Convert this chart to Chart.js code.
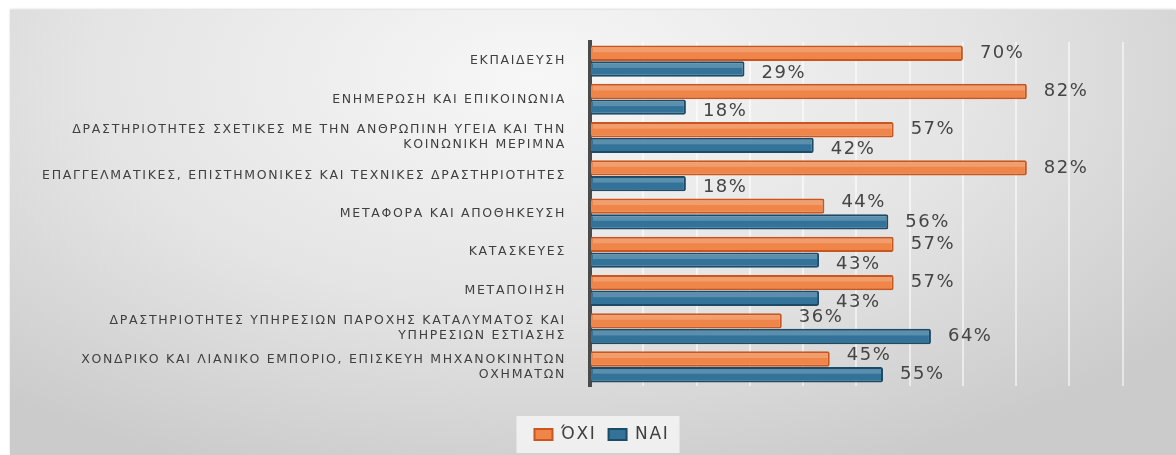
<!DOCTYPE html>
<html>
<head>
<meta charset="utf-8">
<script src="https://cdn.jsdelivr.net/npm/chart.js@4/dist/chart.umd.min.js"></script>
<style>
  html, body { margin: 0; padding: 0; background: #fff; }
  #wrap {
    position: absolute; left: 10px; top: 10px; width: 1166px; height: 445px;
    background: radial-gradient(ellipse 70% 95% at 45% 15%, #f7f7f7 0%, #e4e4e4 55%, #cbcbcb 100%);
    box-shadow: 0 -1px 2px rgba(0,0,0,0.15);
  }
</style>
</head>
<body>
<div id="wrap"><canvas id="sectors" width="1166" height="445"></canvas></div>
<script>
const sectors = [
  'ΕΚΠΑΙΔΕΥΣΗ',
  'ΕΝΗΜΕΡΩΣΗ ΚΑΙ ΕΠΙΚΟΙΝΩΝΙΑ',
  ['ΔΡΑΣΤΗΡΙΟΤΗΤΕΣ ΣΧΕΤΙΚΕΣ ΜΕ ΤΗΝ ΑΝΘΡΩΠΙΝΗ ΥΓΕΙΑ ΚΑΙ ΤΗΝ', 'ΚΟΙΝΩΝΙΚΗ ΜΕΡΙΜΝΑ'],
  'ΕΠΑΓΓΕΛΜΑΤΙΚΕΣ, ΕΠΙΣΤΗΜΟΝΙΚΕΣ ΚΑΙ ΤΕΧΝΙΚΕΣ ΔΡΑΣΤΗΡΙΟΤΗΤΕΣ',
  'ΜΕΤΑΦΟΡΑ ΚΑΙ ΑΠΟΘΗΚΕΥΣΗ',
  'ΚΑΤΑΣΚΕΥΕΣ',
  'ΜΕΤΑΠΟΙΗΣΗ',
  ['ΔΡΑΣΤΗΡΙΟΤΗΤΕΣ ΥΠΗΡΕΣΙΩΝ ΠΑΡΟΧΗΣ ΚΑΤΑΛΥΜΑΤΟΣ ΚΑΙ', 'ΥΠΗΡΕΣΙΩΝ ΕΣΤΙΑΣΗΣ'],
  ['ΧΟΝΔΡΙΚΟ ΚΑΙ ΛΙΑΝΙΚΟ ΕΜΠΟΡΙΟ, ΕΠΙΣΚΕΥΗ ΜΗΧΑΝΟΚΙΝΗΤΩΝ', 'ΟΧΗΜΑΤΩΝ']
];
const oxi = [70, 82, 57, 82, 44, 57, 57, 36, 45];
const nai = [29, 18, 42, 18, 56, 43, 43, 64, 55];

// the original text is drawn wide, so space the letters out a bit
const wideText = {
  id: 'wideText',
  beforeLayout(chart) { chart.ctx.letterSpacing = '1.7px'; },
  beforeDraw(chart) { chart.ctx.letterSpacing = '1.7px'; }
};

// soft light strip on top of each bar (the original has a bevelled look)
const barShine = {
  id: 'barShine',
  afterDatasetsDraw(chart) {
    const ctx = chart.ctx;
    ctx.save();
    chart.data.datasets.forEach((ds, di) => {
      chart.getDatasetMeta(di).data.forEach((bar) => {
        const top = bar.y - bar.height / 2;
        ctx.fillStyle = 'rgba(255,255,255,0.2)';
        ctx.fillRect(bar.base + 2, top + 2, bar.x - bar.base - 4, bar.height * 0.3);
      });
    });
    ctx.restore();
  }
};

// value labels at the end of each bar, the shorter one nudged away a little
const valueLabels = {
  id: 'valueLabels',
  afterDatasetsDraw(chart) {
    const ctx = chart.ctx;
    ctx.save();
    ctx.font = '18px "DejaVu Sans"';
    ctx.letterSpacing = '1.5px';
    ctx.fillStyle = '#454545';
    ctx.textAlign = 'left';
    ctx.textBaseline = 'middle';
    chart.data.datasets.forEach((ds, di) => {
      chart.getDatasetMeta(di).data.forEach((bar, i) => {
        const other = chart.data.datasets[1 - di].data[i];
        let dy = 0;
        if (ds.data[i] < other) dy = di === 0 ? -4 : 4;
        ctx.fillText(ds.data[i] + '%', bar.x + 17, bar.y + dy);
      });
    });
    ctx.restore();
  }
};

// light panel behind the legend
const legendPanel = {
  id: 'legendPanel',
  beforeDraw(chart) {
    const lg = chart.legend;
    if (!lg || !lg.legendHitBoxes.length) return;
    const b = lg.legendHitBoxes;
    const x0 = b[0].left - 18, x1 = b[b.length - 1].left + b[b.length - 1].width + 10;
    const ctx = chart.ctx;
    ctx.save();
    ctx.fillStyle = 'rgba(245,245,245,0.85)';
    ctx.fillRect(x0, b[0].top - 10, x1 - x0, b[0].height + 20);
    ctx.restore();
  }
};

new Chart(document.getElementById('sectors'), {
  type: 'bar',
  data: {
    labels: sectors,
    datasets: [
      { label: 'ΌΧΙ', data: oxi, backgroundColor: '#EF8548', borderColor: '#C9561E', borderWidth: 2, borderRadius: 2, borderSkipped: 'start' },
      { label: 'ΝΑΙ', data: nai, backgroundColor: '#33739A', borderColor: '#1D4B66', borderWidth: 2, borderRadius: 2, borderSkipped: 'start' }
    ]
  },
  options: {
    indexAxis: 'y',
    responsive: false,
    animation: false,
    layout: { padding: { top: 32, right: 0, left: 18, bottom: 2 } },
    datasets: { bar: { categoryPercentage: 0.82, barPercentage: 0.98 } },
    scales: {
      x: {
        min: 0, max: 110,
        ticks: { display: false, stepSize: 10 },
        grid: {
          color: (c) => c.tick && c.tick.value > 100 ? 'rgba(0,0,0,0)' : 'rgba(255,255,255,0.55)',
          lineWidth: 2, drawTicks: false
        },
        border: { display: false },
        afterFit(s) { s.height = 28; }
      },
      y: {
        ticks: { color: '#404040', font: { family: '"DejaVu Sans"', size: 12.5, lineHeight: 1.2 }, padding: 16 },
        grid: { display: false },
        border: { display: true, color: '#4a4a4a', width: 4 },
        afterFit(s) { s.width = 562; }
      }
    },
    plugins: {
      legend: {
        position: 'bottom',
        labels: { color: '#404040', font: { family: '"DejaVu Sans"', size: 17 }, boxWidth: 18, boxHeight: 11, padding: 12 }
      },
      tooltip: { enabled: false }
    }
  },
  plugins: [wideText, barShine, valueLabels, legendPanel]
});
</script>
</body>
</html>
